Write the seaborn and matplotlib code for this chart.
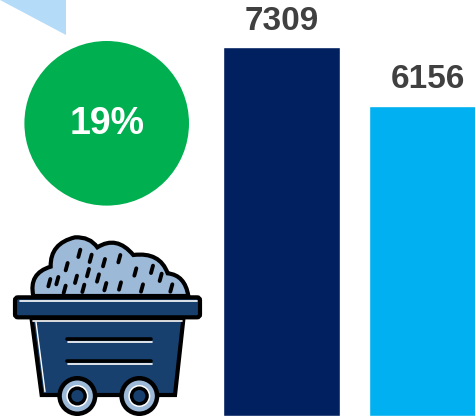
import matplotlib
matplotlib.use("Agg")
import matplotlib.pyplot as plt
import pandas as pd
import seaborn as sns
from matplotlib.patches import Circle, FancyBboxPatch, PathPatch, Polygon
from matplotlib.path import Path

categories = ["A", "B"]
values = [7309, 6156]
bar_colors = ["#002060", "#00B0F0"]
change_label = "19%"

BLACK = "#000000"
CART_BLUE = "#17406F"
PILE_BLUE = "#9DB9D8"

sns.set_theme(style="white")
plt.rcParams["font.family"] = ["Liberation Sans", "DejaVu Sans"]

fig = plt.figure(figsize=(4.75, 4.16), dpi=100)
ax = fig.add_axes([0, 0, 1, 1])
df = pd.DataFrame({"category": categories, "value": values})
sns.barplot(data=df, x="category", y="value", hue="category", palette=bar_colors,
            width=0.807, legend=False, saturation=1, ax=ax)
# bar centres sit near 281.5 and 427.5 px
ax.set_xlim(-281.5 / 146, (475 - 281.5) / 146)
ax.set_ylim(0, 416 / 368.6 * 7309)
ax.axis("off")
for container in ax.containers:
    ax.bar_label(container, fmt="%d", padding=7.5, fontsize=24, fontweight="bold", color="#404040")

# overlay in pixel coordinates for the decoration
deco = fig.add_axes([0, 0, 1, 1], zorder=3)
deco.set_xlim(0, 475)
deco.set_ylim(416, 0)
deco.axis("off")
deco.patch.set_alpha(0)

deco.add_patch(Polygon([(0, 0), (66, 35), (66, 0)], color="#B4DCF9", lw=0))
deco.add_patch(Circle((106.7, 123.3), 82.3, color="#00B050", lw=0))
deco.text(107.5, 124, change_label, color="white", fontsize=27, fontweight="bold", ha="center", va="center")


def z(x, y):
    # position in the 3x crop of the cart -> figure pixels
    return x / 3, 220 + y / 3


pile = [(100, 228), (85, 160, 152, 140), (150, 70, 225, 52), (270, 50, 292, 82), (350, 45, 400, 105),
        (480, 95, 503, 160), (555, 165, 565, 228)]
verts = [z(*pile[0])]
codes = [Path.MOVETO]
for cx, cy, ex, ey in pile[1:]:
    verts += [z(cx, cy), z(ex, ey)]
    codes += [Path.CURVE3, Path.CURVE3]
verts.append(z(*pile[0]))
codes.append(Path.CLOSEPOLY)
deco.add_patch(PathPatch(Path(verts, codes), facecolor=PILE_BLUE, edgecolor=BLACK, lw=3))

coal = [(238, 100), (272, 115), (312, 128), (358, 116), (200, 140), (264, 158), (406, 156), (456, 148),
        (482, 172), (148, 188), (172, 182), (228, 178), (294, 174), (194, 208), (250, 205), (316, 200),
        (360, 198), (426, 204), (514, 204)]
for cx, cy in coal:
    x0, y0 = z(cx + 3, cy - 11)
    x1, y1 = z(cx - 3, cy + 11)
    deco.plot([x0, x1], [y0, y1], color=BLACK, lw=2.8, solid_capstyle="round")

body = [z(95, 298), z(550, 298), z(525, 525), z(125, 525)]
deco.add_patch(Polygon(body, facecolor=CART_BLUE, edgecolor=BLACK, lw=3, joinstyle="miter"))
deco.plot(*zip(z(108, 306), z(135, 515)), color="white", lw=1)
deco.plot(*zip(z(100, 303), z(545, 303)), color="white", lw=1.2)

x0, y0 = z(45, 232)
x1, y1 = z(600, 292)
deco.add_patch(FancyBboxPatch((x0 + 3, y0 + 3), x1 - x0 - 6, y1 - y0 - 6, boxstyle="round,pad=3",
                              facecolor=CART_BLUE, edgecolor=BLACK, lw=3))
deco.plot(*zip(z(60, 243), z(590, 243)), color="white", lw=1.2)

for ly in (358, 423):
    deco.plot(*zip(z(200, ly), z(452, ly)), color=BLACK, lw=2.6)
    deco.plot(*zip(z(205, ly + 8), z(455, ly + 8)), color="white", lw=1.2)

for wx in (232, 418):
    center = z(wx, 528)
    deco.add_patch(Circle(center, 20, color=BLACK, lw=0))
    deco.add_patch(Circle(center, 15.5, color=PILE_BLUE, lw=0))
    deco.add_patch(Circle(center, 11, color="white", lw=0))
    deco.add_patch(Circle(center, 9.5, color=BLACK, lw=0))
    deco.add_patch(Circle(center, 6, color=CART_BLUE, lw=0))

fig.savefig("out.png", dpi=100)
